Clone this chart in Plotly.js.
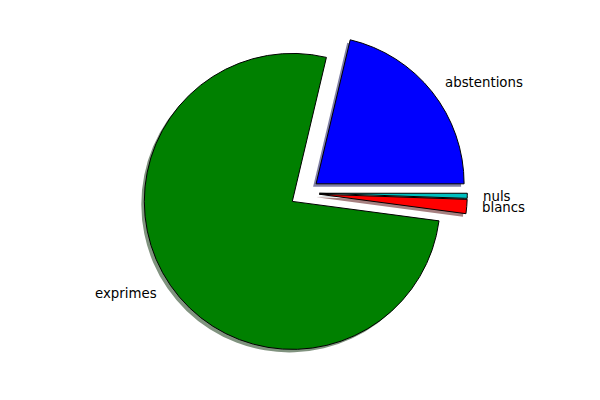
<!DOCTYPE html>
<html>
<head>
<meta charset="utf-8">
<script src="https://cdn.plot.ly/plotly-3.0.1.min.js"></script>
<style>html,body{margin:0;padding:0;background:#fff;}#chart{width:600px;height:400px;}</style>
</head>
<body>
<div id="chart"></div>
<script>
// Data
var labels = ["abstentions", "exprimes", "blancs", "nuls"];
var values = [21.3, 76.6, 1.55, 0.55];
var colors = ["#0000ff", "#008000", "#ff0000", "#00bfbf"];
var shadowColors = ["#8080a6", "#80937f", "#a68080", "#809c9c"];
var pulls = [0.1, 0.1, 0.1, 0.1];

// Geometry (pixels)
var W = 600, H = 400;
var CX = 304.5, CY = 193, R = 148;
var SHX = -3, SHY = 3;
var LABEL_DIST = 1.1;
var maxPull = Math.max.apply(null, pulls);
var half = R * (1 + maxPull);
var total = values.reduce(function (a, b) { return a + b; }, 0);

function domainAt(cx, cy) {
  return {
    x: [(cx - half) / W, (cx + half) / W],
    y: [1 - (cy + half) / H, 1 - (cy - half) / H]
  };
}

// Plotly (counterclockwise) puts the end of the first slice at `rotation`;
// we want the first slice to start at 3 o'clock like matplotlib's startangle=0.
var rot = 90 - 360 * values[0] / total;

var common = {
  type: "pie",
  labels: labels,
  values: values,
  sort: false,
  direction: "counterclockwise",
  rotation: rot,
  pull: pulls,
  textinfo: "none",
  hoverinfo: "skip",
  showlegend: false
};

var shadow = Object.assign({}, common, {
  domain: domainAt(CX + SHX, CY + SHY),
  marker: { colors: shadowColors, line: { width: 0 } }
});
var main = Object.assign({}, common, {
  domain: domainAt(CX, CY),
  marker: { colors: colors, line: { color: "#000000", width: 1 } }
});

// Labels placed like matplotlib's pie labels
var annotations = [];
var cum = 0;
for (var i = 0; i < values.length; i++) {
  var a0 = cum / total * 360;
  cum += values[i];
  var a1 = cum / total * 360;
  var m = (a0 + a1) / 2 * Math.PI / 180;
  var d = (pulls[i] + LABEL_DIST) * R;
  var px = CX + d * Math.cos(m);
  var py = CY - d * Math.sin(m);
  annotations.push({
    x: px / W, y: 1 - py / H, xref: "paper", yref: "paper",
    text: labels[i], showarrow: false,
    xanchor: Math.cos(m) >= 0 ? "left" : "right", yanchor: "middle",
    borderpad: 0,
    font: { family: "DejaVu Sans", size: 13.33, color: "#000000" }
  });
}

var layout = {
  width: W, height: H,
  margin: { l: 0, r: 0, t: 0, b: 0 },
  paper_bgcolor: "#ffffff",
  plot_bgcolor: "#ffffff",
  showlegend: false,
  annotations: annotations
};

Plotly.newPlot("chart", [shadow, main], layout, { staticPlot: true, displayModeBar: false });
</script>
</body>
</html>
